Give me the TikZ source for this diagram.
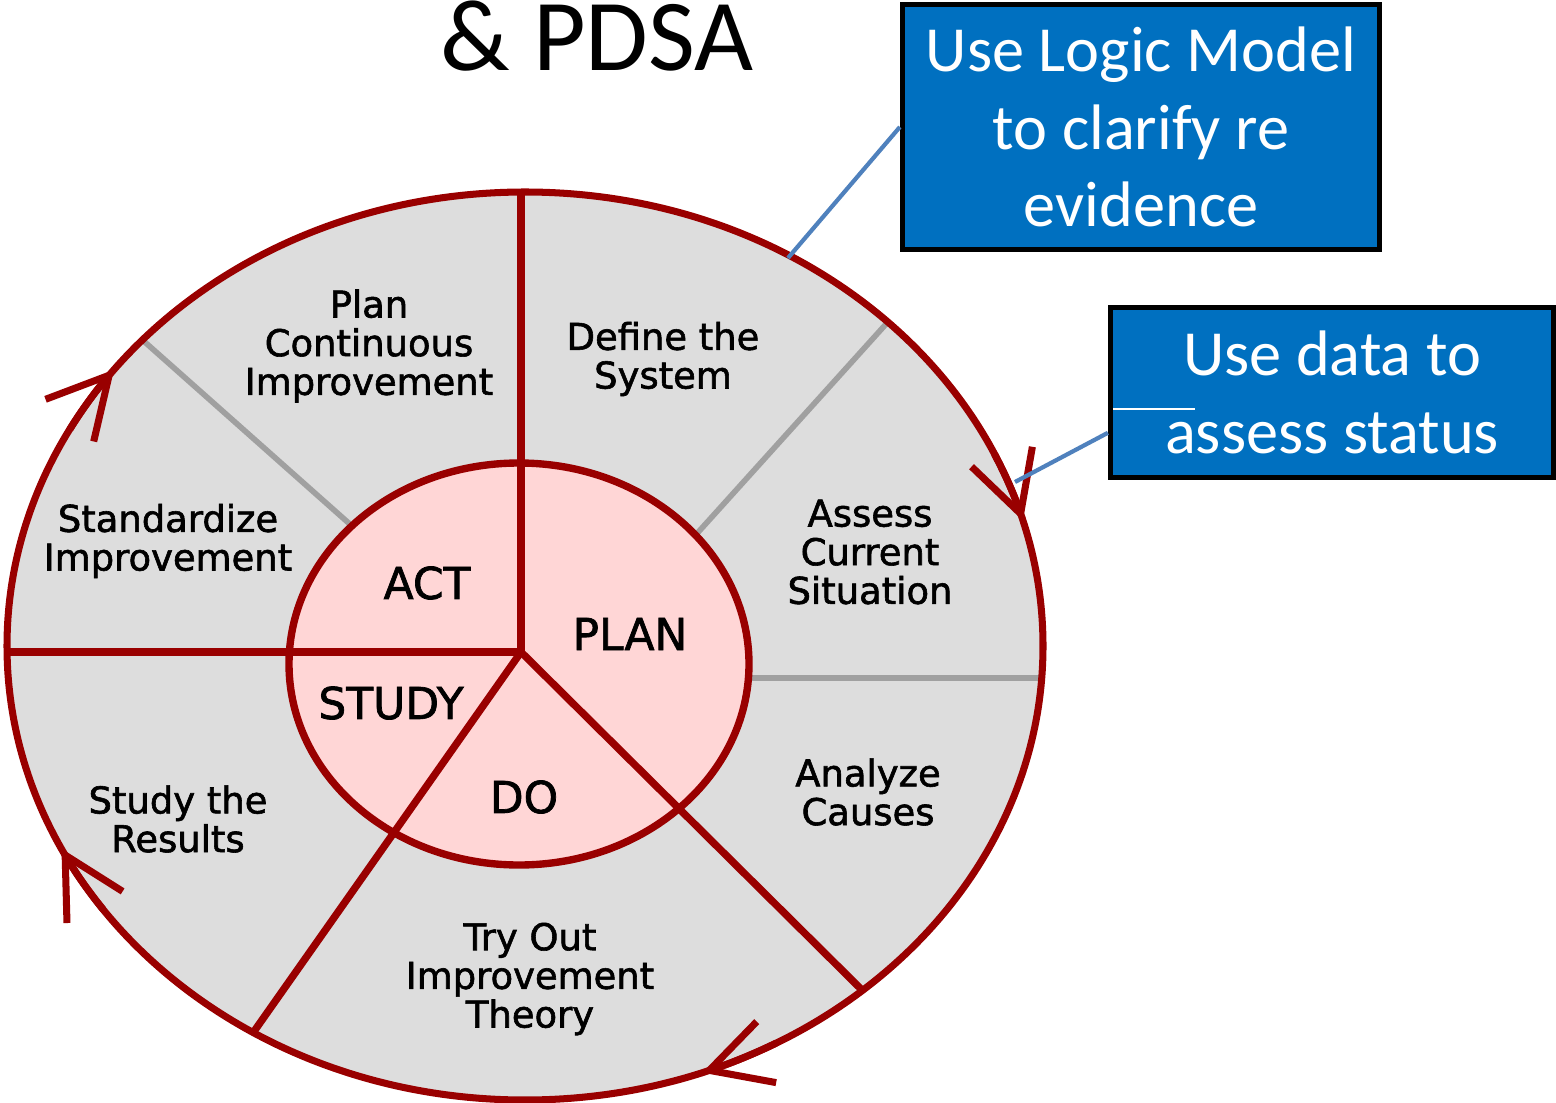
\documentclass[tikz,border=0pt]{standalone}
\usepackage{fontspec}
\setmainfont{Carlito}
\newfontfamily\wheelfont[FakeBold=1.6]{DejaVu Sans}
\usetikzlibrary{arrows.meta,calc}
\definecolor{wheelred}{HTML}{990000}
\definecolor{ringgray}{HTML}{DDDDDD}
\definecolor{hubpink}{HTML}{FFD6D6}
\definecolor{spokegray}{HTML}{A0A0A0}
\definecolor{boxblue}{HTML}{0070C0}
\definecolor{leaderblue}{HTML}{4F81BD}

\begin{document}
\begin{tikzpicture}[
  redline/.style={draw=wheelred, line width=2.1pt},
  rimline/.style={draw=wheelred, line width=2pt},
  grayline/.style={draw=spokegray, line width=1.6pt},
  rimarrow/.style={rimline, -{Straight Barb[length=6mm,width=6.4mm]}},
  steplabel/.style={font=\wheelfont\fontsize{10.5}{11}\selectfont, align=center, text=black},
  phaselabel/.style={font=\wheelfont\fontsize{12.5}{14}\selectfont, text=black},
  notebox/.style={draw=black, line width=1.5pt, fill=boxblue, text=white, align=center,
    font=\fontsize{18.3}{22}\selectfont, inner sep=0pt},
  leader/.style={draw=leaderblue, line width=1.2pt}
]
  \useasboundingbox (0,0) rectangle (15.56,-11.03);
  \coordinate (hub) at (5.21,-6.52);
  \coordinate (oc) at (5.25,-6.46);
  \coordinate (ic) at (5.19,-6.64);

  % vành ngoài và lõi
  \fill[ringgray] (oc) ellipse [x radius=5.18, y radius=4.54];
  \begin{scope}
    \clip (oc) ellipse [x radius=5.18, y radius=4.54];
    \draw[grayline] (3.70,-5.42) -- (1.20,-3.20);
    \draw[grayline] (6.83,-5.49) -- (9.05,-3.03);
    \draw[grayline] (7.20,-6.78) -- (10.60,-6.78);
    \fill[hubpink] (ic) ellipse [x radius=2.30, y radius=2.01];
    \draw[redline] (hub) -- (-0.20,-6.52);
    \draw[redline] (hub) -- (5.21,-1.60);
    \draw[redline] (hub) -- ($(hub)!1.2!(2.55,-10.30)$);
    \draw[redline] (hub) -- ($(hub)!1.2!(8.62,-9.90)$);
  \end{scope}
  \draw[redline] (ic) ellipse [x radius=2.30, y radius=2.01];
  \draw[rimline] (oc) ellipse [x radius=5.18, y radius=4.54];

  % mũi tên trên vành
  \foreach \a in {142.5,16,-70,206.5}
    \draw[rimarrow] (oc) ++({\a+9}:5.18 and 4.54)
      arc[start angle=\a+9, end angle=\a, x radius=5.18, y radius=4.54];

  % nhãn
  \node[steplabel] (plancont) at (3.69,-3.46) {Plan\\Continuous\\Improvement};
  \node[steplabel] (define) at (6.63,-3.59) {Define the\\System};
  \node[steplabel] (assess) at (8.70,-5.52) {Assess\\Current\\Situation};
  \node[steplabel] (standard) at (1.68,-5.41) {Standardize\\Improvement};
  \node[steplabel] (analyze) at (8.68,-7.92) {Analyze\\Causes};
  \node[steplabel] (studyres) at (1.78,-8.19) {Study the\\Results};
  \node[steplabel] (tryout) at (5.30,-9.79) {Try Out\\Improvement\\Theory};
  \node[phaselabel] (act) at (4.27,-5.83) {ACT};
  \node[phaselabel] (plan) at (6.30,-6.34) {PLAN};
  \node[phaselabel] (study) at (3.91,-7.03) {STUDY};
  \node[phaselabel] (do) at (5.24,-7.97) {DO};

  % tiêu đề và hộp ghi chú
  \node[font=\fontsize{29}{34}\selectfont, anchor=base] (title) at (5.97,-0.71) {\& PDSA};
  \node[notebox, minimum width=4.77cm, minimum height=2.45cm] (logic) at (11.41,-1.27)
    {Use Logic Model\\to clarify re\\evidence};
  \node[notebox, minimum width=4.43cm, minimum height=1.70cm] (status) at (13.32,-3.925)
    {Use data to\\assess status};
  \draw[white, line width=0.5pt] (11.13,-4.09) -- (11.95,-4.09);

  \coordinate (rimA) at (7.88,-2.58);
  \coordinate (rimB) at (10.15,-4.82);
  \draw[leader] (logic.west) -- (rimA);
  \draw[leader] ($(status.south west)!0.27!(status.north west)$) -- (rimB);
\end{tikzpicture}
\end{document}
